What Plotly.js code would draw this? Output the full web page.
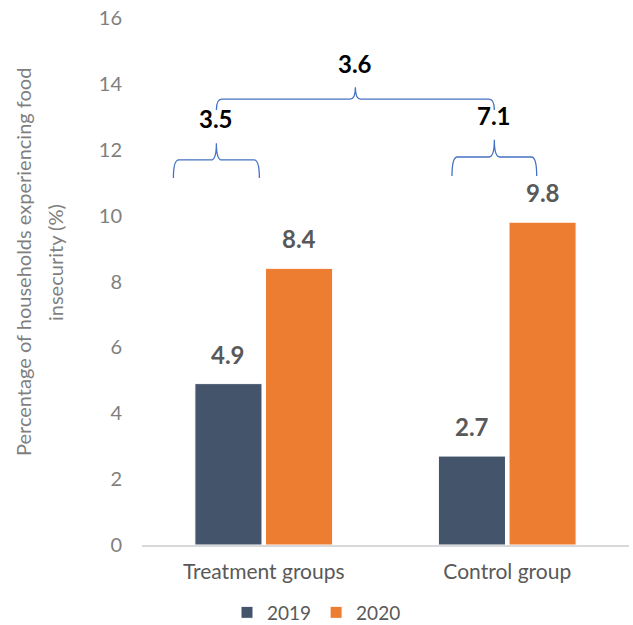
<!DOCTYPE html>
<html>
<head>
<meta charset="utf-8">
<script src="https://cdn.plot.ly/plotly-3.0.1.min.js"></script>
<style>html,body{margin:0;padding:0;background:#fff;}#chart{width:633px;height:625px;}</style>
</head>
<body>
<div id="chart"></div>
<script>
// ---- data ----
const categories = ["Treatment groups", "Control group"];
const seriesNames = ["2019", "2020"];
const values2019 = [4.9, 2.7];
const values2020 = [8.4, 9.8];
const seriesColors = ["#44546A", "#ED7D31"];
const yTicks = [0, 2, 4, 6, 8, 10, 12, 14, 16];
// differences shown with braces
const diffLabels = ["3.5", "7.1", "3.6"];

const xIdx = categories.map((_, i) => i);
const allSeries = [values2019, values2020];

const traces = allSeries.map((vals, s) => ({
  type: "bar",
  name: seriesNames[s],
  x: xIdx,
  y: vals,
  marker: { color: seriesColors[s], line: { color: "#ffffff", width: 1 } },
  hoverinfo: "skip"
}));

// bar geometry
const bargap = 0.42, bargroupgap = 0.05;
const slot = (1 - bargap) / allSeries.length;
const offsets = allSeries.map((_, s) => -(1 - bargap) / 2 + slot * (s + 0.5));

const annotations = [];
allSeries.forEach((vals, s) => {
  vals.forEach((v, i) => {
    annotations.push({
      x: xIdx[i] + offsets[s], y: v, xref: "x", yref: "y",
      text: "<b>" + v.toFixed(1) + "</b>", showarrow: false,
      yanchor: "bottom", yshift: 13,
      font: { family: "Lato, sans-serif", size: 24, color: "#595959" }
    });
  });
});

// braces
function bracePath(x0, x1, yBar, yTip, yPeak) {
  const xc = (x0 + x1) / 2;
  const rx = 0.022;
  return `M ${x0},${yTip} Q ${x0},${yBar} ${x0 + rx},${yBar} L ${xc - rx},${yBar} ` +
         `Q ${xc},${yBar} ${xc},${yPeak} Q ${xc},${yBar} ${xc + rx},${yBar} ` +
         `L ${x1 - rx},${yBar} Q ${x1},${yBar} ${x1},${yTip}`;
}
const leftBrace = { x0: xIdx[0] - 0.371, x1: xIdx[0] - 0.018, bar: 11.69, tip: 11.14, peak: 12.2 };
const rightBrace = { x0: xIdx[1] - 0.227, x1: xIdx[1] + 0.121, bar: 11.78, tip: 11.2, peak: 12.3 };
const topBrace = { x0: (leftBrace.x0 + leftBrace.x1) / 2, x1: (rightBrace.x0 + rightBrace.x1) / 2, bar: 13.54, tip: 13.21, peak: 13.9 };
const braces = [leftBrace, rightBrace, topBrace];
const shapes = braces.map(b => ({
  type: "path", xref: "x", yref: "y",
  path: bracePath(b.x0, b.x1, b.bar, b.tip, b.peak),
  line: { color: "#4472C4", width: 1.3 }
}));
braces.forEach((b, k) => {
  annotations.push({
    x: (b.x0 + b.x1) / 2, y: b.peak, xref: "x", yref: "y",
    text: "<b>" + diffLabels[k] + "</b>", showarrow: false,
    yanchor: "bottom", yshift: k === 2 ? 7 : 8,
    font: { family: "Lato, sans-serif", size: 24, color: "#000000" }
  });
});

// y axis title as two rotated lines
const titleLines = ["Percentage of households experiencing food", "insecurity (%)"];
const titleX = [22, 54];
titleLines.forEach((t, k) => {
  annotations.push({
    xref: "paper", yref: "paper", x: 0, xshift: titleX[k] - 141.5, y: 0.5, yshift: 19,
    text: t, textangle: -90, showarrow: false, xanchor: "center", yanchor: "middle",
    font: { family: "Lato, sans-serif", size: 20, color: "#7f7f7f" }
  });
});

const layout = {
  width: 633, height: 625,
  margin: { l: 141.5, r: 3.5, t: 18, b: 80 },
  paper_bgcolor: "#ffffff", plot_bgcolor: "#ffffff",
  barmode: "group", bargap: bargap, bargroupgap: bargroupgap,
  showlegend: true,
  legend: {
    orientation: "h", xref: "container", yref: "container",
    x: 0.5, xanchor: "center", y: 0.02, yanchor: "middle",
    font: { family: "Lato, sans-serif", size: 19, color: "#595959" },
    itemwidth: 30, traceorder: "normal"
  },
  xaxis: {
    type: "linear", range: [-0.5, 1.5],
    tickvals: xIdx, ticktext: categories,
    showgrid: false, zeroline: false,
    showline: true, linecolor: "#d9d9d9", linewidth: 2,
    ticks: "", ticklabelstandoff: 7,
    tickfont: { family: "Lato, sans-serif", size: 21, color: "#595959" },
    fixedrange: true
  },
  yaxis: {
    range: [0, 16], tickvals: yTicks, ticktext: yTicks.map(String),
    showgrid: false, zeroline: false, showline: false, ticks: "",
    ticklabelstandoff: 19,
    tickfont: { family: "Lato, sans-serif", size: 20, color: "#7f7f7f" },
    fixedrange: true
  },
  shapes: shapes,
  annotations: annotations
};

Plotly.newPlot("chart", traces, layout, { staticPlot: true, displayModeBar: false });
</script>
</body>
</html>
